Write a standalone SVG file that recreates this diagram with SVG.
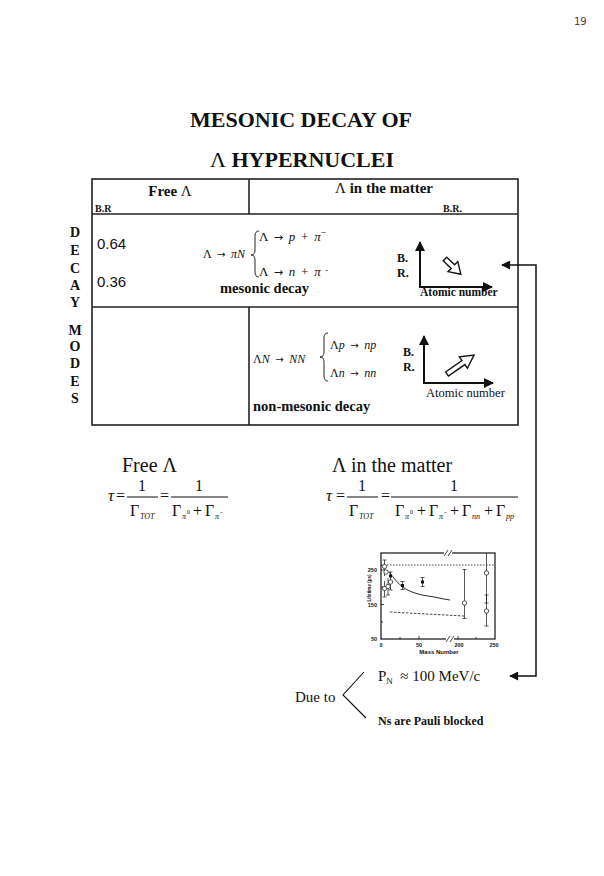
<svg xmlns="http://www.w3.org/2000/svg" width="604" height="876" viewBox="0 0 604 876">
<defs>
<style>
.s{font-family:"Liberation Serif","Times New Roman",serif;fill:#111}
.b{font-weight:bold}
.i{font-style:italic}
.ar{font-family:"DejaVu Sans",sans-serif;font-style:normal;font-size:0.85em}
.ws{word-spacing:2.5px}
.sa{font-family:"Liberation Sans",Arial,sans-serif;fill:#111}
.ln{stroke:#111;fill:none}
.tb{stroke:#222;stroke-width:1.6;fill:none}
</style>
<marker id="ah" viewBox="0 0 10 10" refX="9" refY="5" markerWidth="5" markerHeight="5" orient="auto-start-reverse" markerUnits="strokeWidth">
<path d="M0,0 L10,5 L0,10 Z" fill="#111"/>
</marker>
<marker id="ah2" viewBox="0 0 10 10" refX="9" refY="5" markerWidth="8" markerHeight="6" orient="auto-start-reverse" markerUnits="strokeWidth">
<path d="M0,0 L10,5 L0,10 Z" fill="#111"/>
</marker>
</defs>
<rect width="604" height="876" fill="#fff"/>

<text x="574" y="25" font-family="DejaVu Sans, sans-serif" font-size="10" fill="#444">19</text>

<g id="title">
<text x="301" y="127" text-anchor="middle" font-size="22" class="s b">MESONIC DECAY OF</text>
<text x="302" y="167" text-anchor="middle" font-size="22" class="s b"><tspan font-weight="normal">Λ</tspan> HYPERNUCLEI</text>
</g>

<g id="side-label" class="s b" font-size="14" text-anchor="middle">
<text x="75" y="237">D</text>
<text x="75" y="255">E</text>
<text x="75" y="273">C</text>
<text x="75" y="290">A</text>
<text x="75" y="307">Y</text>
<text x="75" y="335">M</text>
<text x="75" y="351">O</text>
<text x="75" y="368">D</text>
<text x="75" y="386">E</text>
<text x="75" y="403">S</text>
</g>

<g id="table">
<rect x="92" y="179" width="426" height="246" class="tb"/>
<line x1="92" y1="214" x2="518" y2="214" class="tb"/>
<line x1="92" y1="307" x2="518" y2="307" class="tb"/>
<line x1="249" y1="179" x2="249" y2="214" class="tb" stroke-width="1"/>
<line x1="249" y1="307" x2="249" y2="425" class="tb"/>
</g>

<g id="header">
<text x="170" y="196" text-anchor="middle" font-size="15" class="s b">Free <tspan font-weight="normal">Λ</tspan></text>
<text x="95" y="212" font-size="10" class="s b">B.R</text>
<text x="384" y="193" text-anchor="middle" font-size="15" class="s b"><tspan font-weight="normal">Λ</tspan> in the matter</text>
<text x="443" y="212" font-size="10" class="s b">B.R.</text>
</g>

<g id="row-mesonic">
<text x="97" y="249" font-size="15" class="sa">0.64</text>
<text x="97" y="287" font-size="15" class="sa">0.36</text>
<text x="203" y="258" font-size="12" class="s ws">Λ <tspan class="ar">→</tspan> <tspan class="i">πN</tspan></text>
<path d="M259,231 Q255,231 255,236 L255,250 Q255,255 251,255 Q255,255 255,260 L255,272 Q255,277 259,277" class="ln" stroke-width="0.9"/>
<text x="259" y="241" font-size="13" class="s ws">Λ <tspan class="ar">→</tspan> <tspan class="i">p</tspan> + <tspan class="i">π</tspan><tspan font-size="10" dy="-5">−</tspan></text>
<text x="259" y="276" font-size="13" class="s ws">Λ <tspan class="ar">→</tspan> <tspan class="i">n</tspan> + <tspan class="i">π</tspan><tspan font-size="8" dy="-3"> -</tspan></text>
<text x="220" y="293" font-size="14.5" class="s b">mesonic decay</text>
<text x="397" y="262" font-size="12" class="s b">B.</text>
<text x="397" y="277" font-size="12" class="s b">R.</text>
<line x1="420" y1="287" x2="420" y2="242" class="ln" stroke-width="2" marker-end="url(#ah)"/>
<line x1="419" y1="287" x2="492" y2="287" class="ln" stroke-width="2" marker-end="url(#ah)"/>
<polygon points="0,-2.5 11,-2.5 11,-7 22,0 11,7 11,2.5 0,2.5" transform="translate(445,259) rotate(44)" fill="#fff" stroke="#111" stroke-width="1.4"/>
<text x="420" y="296" font-size="11.5" class="s b">Atomic number</text>
</g>

<g id="row-nonmesonic">
<text x="253" y="363" font-size="12" class="s ws">Λ<tspan class="i">N</tspan>  <tspan class="ar">→</tspan> <tspan class="i">NN</tspan></text>
<path d="M328,333 Q324,333 324,338 L324,352 Q324,357 320,357 Q324,357 324,362 L324,376 Q324,381 328,381" class="ln" stroke-width="0.9"/>
<text x="330" y="349" font-size="12" class="s ws">Λ<tspan class="i">p</tspan> <tspan class="ar">→</tspan> <tspan class="i">np</tspan></text>
<text x="330" y="377" font-size="12" class="s ws">Λ<tspan class="i">n</tspan> <tspan class="ar">→</tspan> <tspan class="i">nn</tspan></text>
<text x="253" y="411" font-size="14.5" class="s b">non-mesonic decay</text>
<text x="403" y="356" font-size="12" class="s b">B.</text>
<text x="403" y="371" font-size="12" class="s b">R.</text>
<line x1="424" y1="383" x2="424" y2="336" class="ln" stroke-width="2" marker-end="url(#ah)"/>
<line x1="423" y1="383" x2="493" y2="383" class="ln" stroke-width="2" marker-end="url(#ah)"/>
<polygon points="0,-2.5 20,-2.5 20,-7 33,0 20,7 20,2.5 0,2.5" transform="translate(447,374) rotate(-35)" fill="#fff" stroke="#111" stroke-width="1.4"/>
<text x="426" y="397" font-size="12.5" class="s">Atomic number</text>
</g>

<g id="formula-free" class="s">
<text x="122" y="472" font-size="20">Free Λ</text>
<text x="108" y="501" font-size="17" class="i">τ</text>
<text x="116" y="501" font-size="16">=</text>
<text x="142" y="491" font-size="16" text-anchor="middle">1</text>
<line x1="127" y1="497" x2="158" y2="497" class="ln" stroke-width="1"/>
<text x="130" y="516" font-size="16">Γ</text>
<text x="140" y="519" font-size="8" class="i">TOT</text>
<text x="160" y="501" font-size="16">=</text>
<text x="199" y="491" font-size="16" text-anchor="middle">1</text>
<line x1="171" y1="497" x2="228" y2="497" class="ln" stroke-width="1"/>
<text x="172" y="516" font-size="16">Γ</text>
<text x="182" y="519" font-size="8" class="i">π</text>
<text x="187" y="514" font-size="6">0</text>
<text x="193" y="516" font-size="16">+</text>
<text x="205" y="516" font-size="16">Γ</text>
<text x="215" y="519" font-size="8" class="i">π</text>
<text x="220" y="514" font-size="7">-</text>
</g>

<g id="formula-matter" class="s">
<text x="332" y="472" font-size="20">Λ in the matter</text>
<text x="326" y="501" font-size="17" class="i">τ</text>
<text x="336" y="501" font-size="16">=</text>
<text x="362" y="491" font-size="16" text-anchor="middle">1</text>
<line x1="347" y1="497" x2="378" y2="497" class="ln" stroke-width="1"/>
<text x="349" y="516" font-size="16">Γ</text>
<text x="359" y="519" font-size="8" class="i">TOT</text>
<text x="381" y="501" font-size="16">=</text>
<text x="454" y="491" font-size="16" text-anchor="middle">1</text>
<line x1="391" y1="497" x2="518" y2="497" class="ln" stroke-width="1"/>
<text x="395" y="516" font-size="16">Γ</text>
<text x="405" y="519" font-size="8" class="i">π</text>
<text x="410" y="514" font-size="6">0</text>
<text x="417" y="516" font-size="16">+</text>
<text x="429" y="516" font-size="16">Γ</text>
<text x="439" y="519" font-size="8" class="i">π</text>
<text x="444" y="514" font-size="7">-</text>
<text x="450" y="516" font-size="16">+</text>
<text x="462" y="516" font-size="16">Γ</text>
<text x="472" y="519" font-size="8" class="i">nn</text>
<text x="484" y="516" font-size="16">+</text>
<text x="496" y="516" font-size="16">Γ</text>
<text x="506" y="519" font-size="8" class="i">pp</text>
</g>

<g id="lifetime-plot">
<rect x="381" y="553" width="114" height="86" class="ln" stroke-width="1.2"/>
<line x1="381" y1="565" x2="495" y2="565" class="ln" stroke-width="0.8" stroke-dasharray="1.5,1.5"/>
<g class="ln" stroke-width="0.8">
<line x1="381" y1="570" x2="384" y2="570"/><line x1="381" y1="604.5" x2="384" y2="604.5"/>
<line x1="381" y1="587" x2="383" y2="587"/><line x1="381" y1="622" x2="383" y2="622"/>
<line x1="419" y1="639" x2="419" y2="636"/><line x1="458" y1="639" x2="458" y2="636"/>
<line x1="476" y1="639" x2="476" y2="637"/><line x1="400" y1="639" x2="400" y2="637"/>
</g>
<rect x="444" y="550" width="8" height="6" fill="#fff"/>
<line x1="444" y1="556" x2="448" y2="550" class="ln" stroke-width="0.8"/>
<line x1="448" y1="556" x2="452" y2="550" class="ln" stroke-width="0.8"/>
<rect x="446" y="636" width="8" height="6" fill="#fff"/>
<line x1="446" y1="642" x2="450" y2="636" class="ln" stroke-width="0.8"/>
<line x1="450" y1="642" x2="454" y2="636" class="ln" stroke-width="0.8"/>
<path d="M389,572 C394,578 398,584 404,588 S420,595 428,596 S442,599 450,600" class="ln" stroke-width="0.9"/>
<line x1="390" y1="612" x2="464" y2="616" class="ln" stroke-width="0.8" stroke-dasharray="2.5,1.5"/>
<g class="ln" stroke-width="0.7">
<line x1="384.5" y1="560" x2="384.5" y2="576"/><line x1="382.5" y1="560" x2="386.5" y2="560"/>
<line x1="384.5" y1="581" x2="384.5" y2="597"/><line x1="382.5" y1="597" x2="386.5" y2="597"/>
<line x1="388" y1="578" x2="388" y2="595"/><line x1="386" y1="595" x2="390" y2="595"/>
<line x1="390.5" y1="572" x2="390.5" y2="590"/><line x1="388.5" y1="572" x2="392.5" y2="572"/><line x1="388.5" y1="590" x2="392.5" y2="590"/>
<line x1="402.5" y1="581.5" x2="402.5" y2="589.5"/><line x1="400.5" y1="581.5" x2="404.5" y2="581.5"/><line x1="400.5" y1="589.5" x2="404.5" y2="589.5"/>
<line x1="422.5" y1="577.5" x2="422.5" y2="586.5"/><line x1="420.5" y1="577.5" x2="424.5" y2="577.5"/><line x1="420.5" y1="586.5" x2="424.5" y2="586.5"/>
<line x1="464.5" y1="569.5" x2="464.5" y2="618.5"/><line x1="462.5" y1="569.5" x2="466.5" y2="569.5"/><line x1="462.5" y1="618.5" x2="466.5" y2="618.5"/>
<line x1="486.5" y1="553" x2="486.5" y2="603"/><line x1="484.5" y1="603" x2="488.5" y2="603"/>
<line x1="486.5" y1="595" x2="486.5" y2="626"/><line x1="484.5" y1="595" x2="488.5" y2="595"/><line x1="484.5" y1="626" x2="488.5" y2="626"/>
</g>
<g fill="#fff" stroke="#111" stroke-width="0.7">
<circle cx="384.5" cy="566.5" r="2.2"/>
<circle cx="386" cy="572" r="2.2"/>
<circle cx="384.5" cy="588.5" r="2.2"/>
<circle cx="388" cy="586.5" r="2.2"/>
<circle cx="390.5" cy="582" r="2.2"/>
<circle cx="464.5" cy="603" r="2.2"/>
<circle cx="486.5" cy="573" r="2.2"/>
<circle cx="486.5" cy="611" r="2.2"/>
</g>
<g fill="#111">
<rect x="389" y="574.5" width="3" height="3"/>
<rect x="401" y="584" width="3" height="3"/>
<rect x="421" y="580.5" width="3" height="3"/>
</g>
<g class="sa b" font-size="5.5">
<text x="377" y="572" text-anchor="end">250</text>
<text x="377" y="606.5" text-anchor="end">150</text>
<text x="377" y="641" text-anchor="end">50</text>
<text x="381" y="647" text-anchor="middle">0</text>
<text x="419" y="647" text-anchor="middle">50</text>
<text x="459" y="647" text-anchor="middle">200</text>
<text x="494" y="647" text-anchor="middle">250</text>
</g>
<text x="439" y="654" text-anchor="middle" font-size="6" class="sa b">Mass Number</text>
<text transform="translate(371,588) rotate(-90)" text-anchor="middle" font-size="4.5" class="sa b">Lifetime (ps)</text>
</g>

<g id="due-to">
<text x="378" y="681" font-size="15" class="s">P<tspan font-size="9" dy="3">N</tspan><tspan dy="-3" xml:space="preserve">  ≈ 100 MeV/c</tspan></text>
<text x="295" y="702" font-size="15" class="s">Due to</text>
<polyline points="364,672 343,695 366,718" class="ln" stroke-width="1.1"/>
<text x="378" y="725" font-size="12" class="s b">Ns are Pauli blocked</text>
</g>

<g id="connectors">
<path d="M502,265 L536,265 L536,676 L510,676" class="ln" stroke-width="1.5" marker-start="url(#ah2)" marker-end="url(#ah2)"/>
</g>
</svg>
